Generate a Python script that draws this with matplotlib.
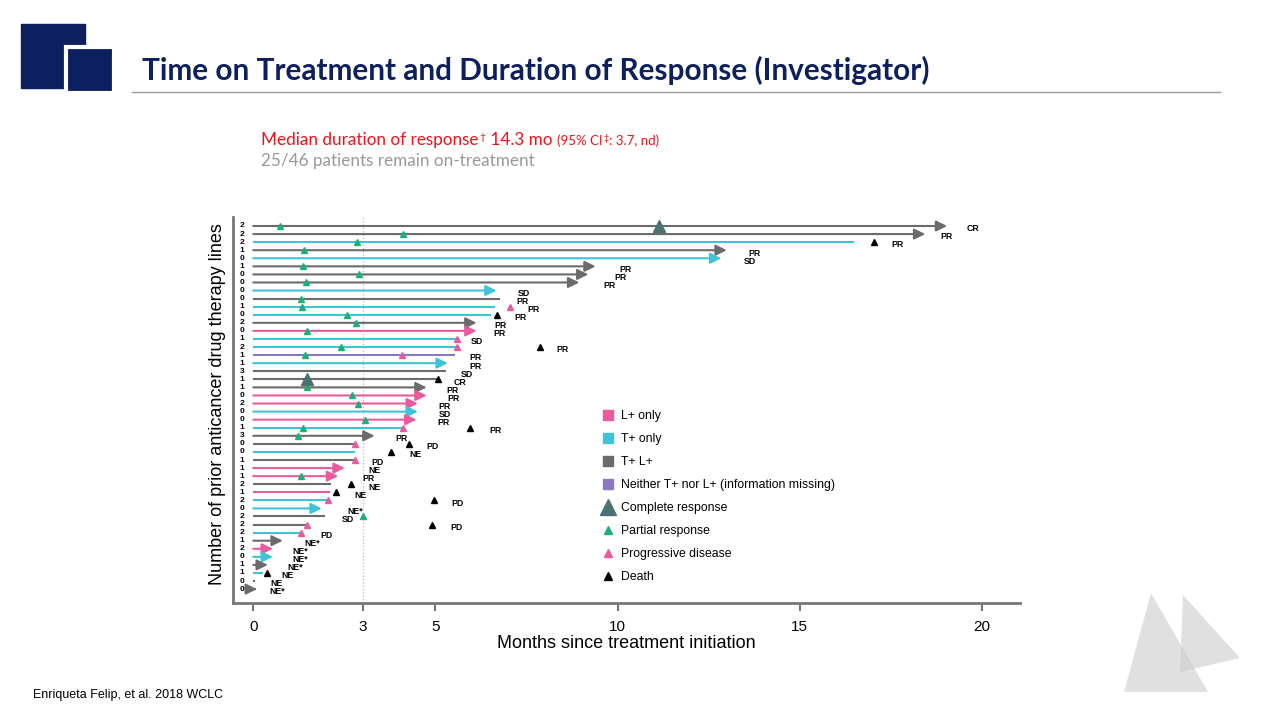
import matplotlib.pyplot as plt
from matplotlib.lines import Line2D
from matplotlib.patches import Rectangle, Polygon

# one entry per patient, top row first
prior_lines = [2, 2, 2, 1, 0, 1, 0, 0, 0, 0, 1, 0, 2, 0, 1, 2, 1, 1, 3, 1, 1, 0, 2,
               0, 0, 1, 3, 0, 0, 1, 1, 1, 2, 1, 2, 0, 2, 2, 2, 1, 2, 0, 1, 1, 0, 0]
group = ['TL', 'TL', 'T', 'TL', 'T', 'TL', 'TL', 'TL', 'T', 'TL', 'T', 'T', 'TL', 'L',
         'T', 'T', 'N', 'T', 'TL', 'TL', 'TL', 'L', 'L', 'T', 'L', 'T', 'TL', 'TL', 'T',
         'TL', 'L', 'L', 'TL', 'L', 'T', 'T', 'TL', 'TL', 'T', 'TL', 'L', 'T', 'TL', 'T',
         'TL', 'TL']
duration = [19.05, 18.45, 16.5, 13.0, 12.85, 9.4, 9.2, 8.95, 6.68, 6.77, 6.63, 6.54,
            6.13, 6.13, 5.58, 5.58, 5.53, 5.34, 5.3, 5.05, 4.76, 4.76, 4.52, 4.52, 4.48,
            4.1, 3.33, 2.78, 2.8, 2.78, 2.51, 2.33, 2.13, 2.1, 2.05, 1.88, 1.96, 1.47,
            1.31, 0.81, 0.54, 0.54, 0.4, 0.27, 0.05, 0.1]
ongoing = [1, 1, 0, 1, 1, 1, 1, 1, 1, 0, 0, 0, 1, 1, 0, 0, 0, 1, 0, 0, 1, 1, 1, 1, 1,
           0, 1, 0, 0, 0, 1, 1, 0, 0, 0, 1, 0, 0, 0, 1, 1, 1, 1, 0, 0, 1]
best_resp = ['CR', 'PR', 'PR', 'PR', 'SD', 'PR', 'PR', 'PR', 'SD', 'PR', 'PR', 'PR',
             'PR', 'PR', 'SD', 'PR', 'PR', 'PR', 'SD', 'CR', 'PR', 'PR', 'PR', 'SD',
             'PR', 'PR', 'PR', 'PD', 'NE', 'PD', 'NE', 'PR', 'NE', 'NE', 'PD', 'NE*',
             'SD', 'PD', 'PD', 'NE*', 'NE*', 'NE*', 'NE*', 'NE', 'NE', 'NE*']
resp_label_x = [19.76, 19.04, 17.7, 13.75, 13.64, 10.23, 10.07, 9.79, 7.43, 7.38, 7.68,
                7.35, 6.8, 6.77, 6.14, 8.5, 6.09, 6.09, 5.87, 5.68, 5.48, 5.51, 5.26,
                5.26, 5.21, 6.64, 4.08, 4.93, 4.44, 3.4, 3.34, 3.15, 3.34, 2.93, 5.62,
                2.79, 2.6, 5.59, 2.02, 1.61, 1.28, 1.28, 1.14, 0.93, 0.65, 0.65]

# events: (row index, months)
pr_row = [0, 1, 2, 3, 5, 6, 7, 9, 10, 11, 12, 13, 15, 16, 20, 21, 22, 24, 25, 26, 31, 36]
pr_t = [0.73, 4.1, 2.84, 1.39, 1.36, 2.9, 1.44, 1.31, 1.33, 2.56, 2.81, 1.47, 2.4, 1.41,
        1.47, 2.7, 2.87, 3.08, 1.36, 1.22, 1.31, 3.0]
cr_row = [0, 19]
cr_t = [11.15, 1.47]
pd_row = [10, 14, 15, 16, 25, 27, 29, 34, 37, 38]
pd_t = [7.04, 5.58, 5.58, 4.08, 4.1, 2.78, 2.78, 2.05, 1.47, 1.31]
death_row = [2, 11, 15, 19, 25, 27, 28, 32, 33, 34, 37, 43]
death_t = [17.05, 6.68, 7.87, 5.07, 5.94, 4.27, 3.77, 2.67, 2.28, 4.95, 4.9, 0.37]

colors = {'L': '#ec5a9e', 'T': '#3ec3d8', 'TL': '#6b6b6b', 'N': '#8a78c0'}
legend_names = {'L': 'L+ only', 'T': 'T+ only', 'TL': 'T+ L+',
                'N': 'Neither T+ nor L+ (information missing)'}
c_pr = '#1bb07a'
c_cr = '#4a7272'
c_pd = '#ec5a9e'
navy = '#0c1f5e'
red = '#e8141c'

plt.rcParams['font.family'] = ['Liberation Sans', 'DejaVu Sans']

fig = plt.figure(figsize=(12.8, 7.2), dpi=100)
ax = fig.add_axes([233 / 1280, 1 - 603 / 720, (1020 - 233) / 1280, (603 - 217) / 720])

for i in range(len(duration)):
    c = colors[group[i]]
    if ongoing[i]:
        ax.annotate('', xy=(duration[i], i), xytext=(0, i),
                    arrowprops=dict(arrowstyle='-|>,head_length=0.65,head_width=0.32',
                                    mutation_scale=10, lw=1.5, color=c,
                                    shrinkA=0, shrinkB=0))
    else:
        ax.plot([0, duration[i]], [i, i], color=c, lw=1.5, solid_capstyle='butt')
    ax.text(resp_label_x[i], i + 0.35, best_resp[i], fontsize=6.3, fontweight='bold',
            ha='center', va='center')
    ax.text(0.0115, i, str(prior_lines[i]), transform=ax.get_yaxis_transform(),
            fontsize=6, fontweight='bold', ha='center', va='center')

ax.plot(pr_t, pr_row, '^', color=c_pr, ms=5, ls='none', zorder=5)
ax.plot(cr_t, cr_row, '^', color=c_cr, ms=8, ls='none', zorder=5)
ax.plot(pd_t, pd_row, '^', color=c_pd, ms=5, ls='none', zorder=5)
ax.plot(death_t, death_row, '^', color='black', ms=5, ls='none', zorder=5)

ax.axvline(3, color='#bbbbbb', ls=':', lw=0.9, zorder=0)

ax.set_xlim(-0.557, 21.05)
ax.set_ylim(46.72, -1.115)
ax.set_xticks([0, 3, 5, 10, 15, 20])
ax.set_yticks([])
ax.tick_params(axis='x', length=6, width=1.5, color='#777777', labelsize=11, pad=6)
for s in ['top', 'right']:
    ax.spines[s].set_visible(False)
for s in ['left', 'bottom']:
    ax.spines[s].set_color('#777777')
    ax.spines[s].set_linewidth(2)
ax.set_xlabel('Months since treatment initiation', fontsize=13, labelpad=1)
ax.set_ylabel('Number of prior anticancer drug therapy lines', fontsize=13)
ax.yaxis.set_label_coords(-0.009, 0.515)

handles = [Line2D([], [], marker='s', ls='none', color=colors[k], ms=7) for k in ['L', 'T', 'TL', 'N']]
labels = [legend_names[k] for k in ['L', 'T', 'TL', 'N']]
handles += [Line2D([], [], marker='^', ls='none', color=c_cr, ms=11),
            Line2D([], [], marker='^', ls='none', color=c_pr, ms=6),
            Line2D([], [], marker='^', ls='none', color=c_pd, ms=6),
            Line2D([], [], marker='^', ls='none', color='black', ms=6)]
labels += ['Complete response', 'Partial response', 'Progressive disease', 'Death']
fig.legend(handles, labels, loc='upper left', bbox_to_anchor=(597 / 1280, 1 - 405 / 720),
           frameon=False, fontsize=8.8, handlelength=1.0, handletextpad=0.55,
           labelspacing=0.9, borderaxespad=0)

# slide decoration
fig.patches.append(Rectangle((21 / 1280, 1 - 88 / 720), 64 / 1280, 64 / 720,
                             transform=fig.transFigure, color=navy))
fig.patches.append(Rectangle((66 / 1280, 1 - 93 / 720), 48 / 1280, 46 / 720,
                             transform=fig.transFigure, facecolor=navy,
                             edgecolor='white', lw=3))
fig.add_artist(Line2D([132 / 1280, 1220 / 1280], [1 - 92 / 720, 1 - 92 / 720],
                      color='#999999', lw=1))
fig.patches.append(Polygon([(1151 / 1280, 1 - 593 / 720), (1124 / 1280, 1 - 692 / 720),
                            (1208 / 1280, 1 - 692 / 720)], closed=True,
                           transform=fig.transFigure, color='#cccccc', alpha=0.6, lw=0))
fig.patches.append(Polygon([(1183 / 1280, 1 - 595 / 720), (1240 / 1280, 1 - 658 / 720),
                            (1180 / 1280, 1 - 672 / 720)], closed=True,
                           transform=fig.transFigure, color='#cccccc', alpha=0.6, lw=0))

fig.text(142 / 1280, 1 - 70 / 720, 'Time on Treatment and Duration of Response (Investigator)',
         family='Lato', fontweight='bold', fontsize=21.4, color=navy, va='center')

# red subtitle pieces on one baseline; the dagger marks are small and raised
pieces = [('Median duration of response', 12.3, 0), ('\u2020', 7.5, 5),
          (' 14.3 mo ', 12.3, 0), ('(95% CI', 9.5, 0), ('\u2021', 6.5, 4),
          (': 3.7, nd)', 9.5, 0)]
renderer = fig.canvas.get_renderer()
x_px = 261
base_px = 720 - 145
for s, size, rise in pieces:
    t = fig.text(x_px / 1280, (base_px + rise) / 720, s, family='Lato', fontsize=size,
                 color=red, va='baseline', ha='left')
    x_px = t.get_window_extent(renderer).x1 + 0.5

fig.text(261 / 1280, 1 - 161 / 720, '25/46 patients remain on-treatment',
         family='Lato', fontsize=12.3, color='#999999', va='center')
fig.text(33 / 1280, 1 - 695 / 720, 'Enriqueta Felip, et al. 2018 WCLC',
         fontsize=9, color='black', va='center')

fig.savefig('out.png', dpi=100)
